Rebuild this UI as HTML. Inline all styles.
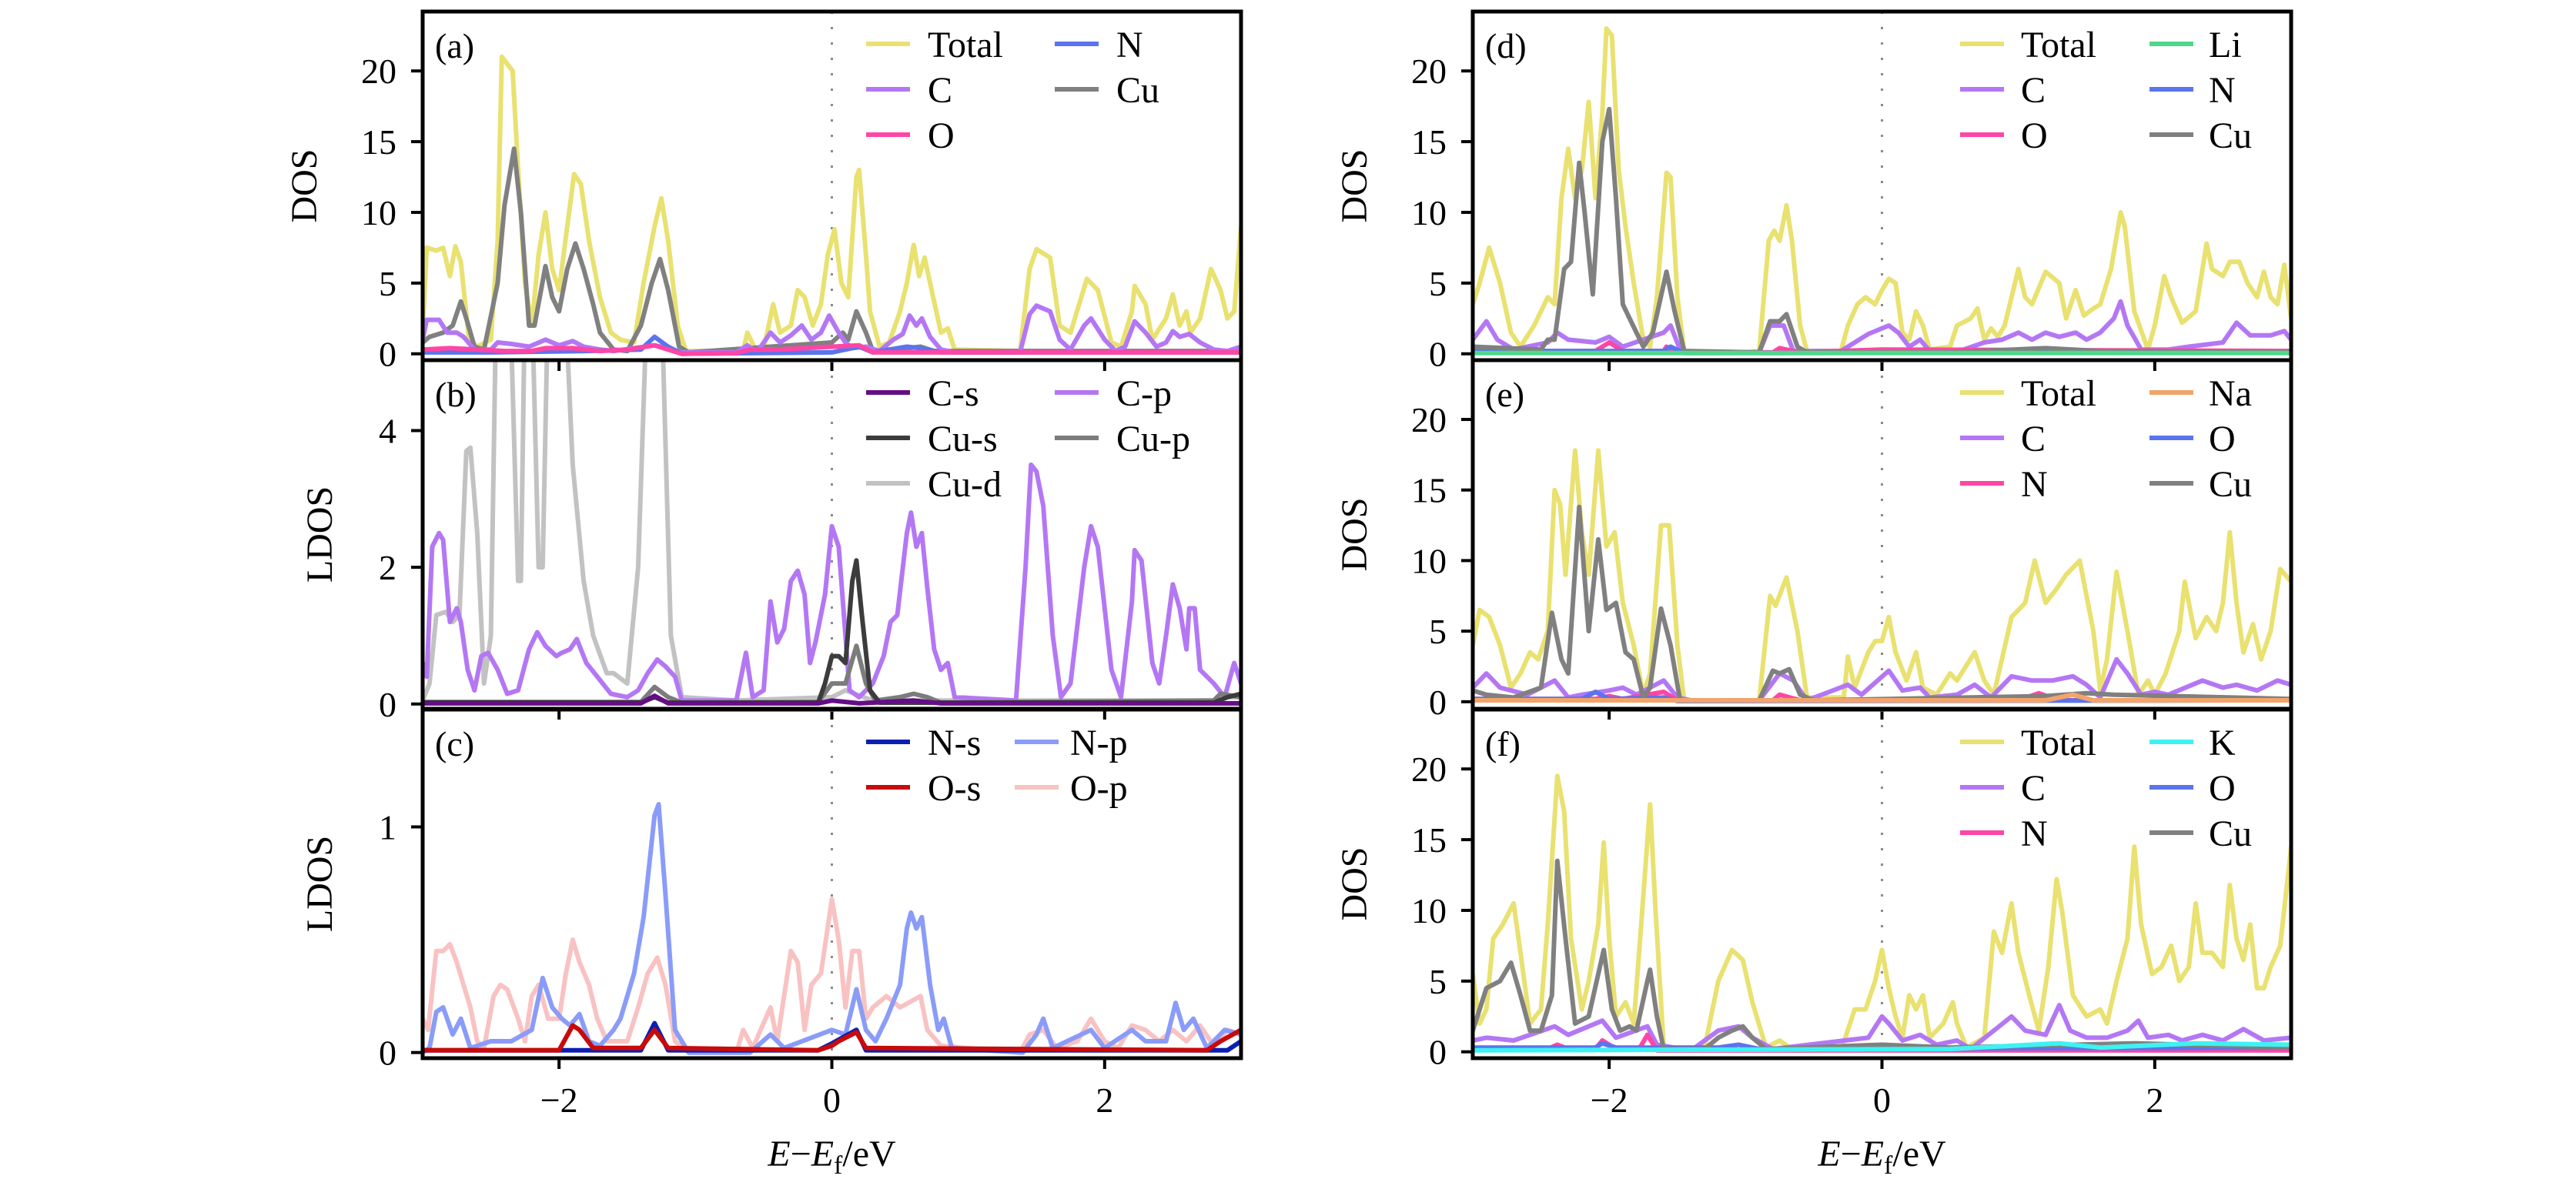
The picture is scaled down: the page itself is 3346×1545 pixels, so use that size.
<!DOCTYPE html>
<html><head><meta charset="utf-8"><title>DOS panels</title>
<style>
html,body{margin:0;padding:0;background:#fff;}
svg{display:block;}
svg text{font-family:"Liberation Serif","DejaVu Serif",serif;}
</style></head>
<body>
<svg id="chart" width="3346" height="1545" viewBox="0 0 3346 1545" xmlns="http://www.w3.org/2000/svg" font-family="Liberation Serif, serif"></svg>
<script>
// ---------- data (energy eV, DOS value) ----------
const aTotal=[[-3,1.5],[-2.97,7.5],[-2.9,7.3],[-2.85,7.5],[-2.8,5.5],[-2.76,7.6],[-2.72,6.5],[-2.66,1],[-2.6,0.5],[-2.5,1],[-2.45,8],[-2.42,21],[-2.38,20.5],[-2.34,20],[-2.3,13],[-2.25,5],[-2.2,2],[-2.15,7],[-2.1,10],[-2.05,6],[-2,4.5],[-1.94,9],[-1.89,12.7],[-1.84,12],[-1.78,8],[-1.7,4],[-1.62,1.5],[-1.55,1],[-1.45,0.8],[-1.38,5],[-1.3,9],[-1.25,11],[-1.2,8],[-1.13,2],[-1.07,0.2],[-0.65,0.2],[-0.62,1.5],[-0.56,0.3],[-0.5,0.3],[-0.43,3.5],[-0.38,1.5],[-0.3,2],[-0.25,4.5],[-0.2,4],[-0.14,2],[-0.08,3.5],[-0.03,7],[0.02,8.8],[0.07,5],[0.12,4],[0.18,12.5],[0.2,13],[0.25,7],[0.28,3],[0.35,0.5],[0.42,0.8],[0.5,3],[0.55,5],[0.6,7.7],[0.64,5.5],[0.68,6.8],[0.72,5],[0.8,1.5],[0.85,1.8],[0.9,0.3],[1.38,0.2],[1.45,6],[1.5,7.4],[1.6,6.8],[1.67,2],[1.75,1.5],[1.87,5.3],[1.95,4.5],[2.05,0.8],[2.12,0.5],[2.2,3],[2.22,4.8],[2.3,3.5],[2.35,1],[2.45,2.5],[2.5,4.2],[2.55,2],[2.6,3],[2.63,1.5],[2.7,2.5],[2.78,6],[2.85,4.5],[2.9,2.5],[2.95,3],[3,9]];
const aCu=[[-3,0.8],[-2.95,1.2],[-2.85,1.5],[-2.78,2],[-2.72,3.7],[-2.68,2.5],[-2.62,0.5],[-2.55,0.3],[-2.45,5],[-2.4,10.5],[-2.33,14.5],[-2.28,10],[-2.22,2],[-2.18,2],[-2.1,6.2],[-2.05,4],[-2,3],[-1.94,6],[-1.88,7.8],[-1.82,6],[-1.75,3.5],[-1.7,1.5],[-1.6,0.3],[-1.5,0.2],[-1.4,2],[-1.32,5],[-1.26,6.7],[-1.2,4.5],[-1.12,0.5],[-1.05,0.1],[0,0.8],[0.08,1.5],[0.12,1],[0.18,3],[0.25,1.5],[0.3,0.2],[0.55,0.4],[0.65,0.5],[0.75,0.2],[3,0.2]];
const aC=[[-3,1],[-2.97,2.4],[-2.88,2.4],[-2.82,1.5],[-2.75,1.5],[-2.7,1.2],[-2.62,0.3],[-2.5,0.3],[-2.45,0.8],[-2.35,0.7],[-2.22,0.5],[-2.1,1],[-2,0.6],[-1.9,0.9],[-1.82,0.5],[-1.7,0.3],[-1.6,0.2],[-1.3,0.6],[-1.2,0.4],[-1.1,0.1],[-0.7,0.1],[-0.62,0.6],[-0.55,0.1],[-0.45,1.5],[-0.38,0.8],[-0.3,1.3],[-0.22,2],[-0.15,1],[-0.08,1.5],[-0.02,2.7],[0.05,1.5],[0.1,0.8],[0.15,0.4],[0.25,0.5],[0.35,0.2],[0.45,1],[0.52,1.4],[0.57,2.7],[0.62,2],[0.66,2.5],[0.72,1.2],[0.8,0.3],[0.9,0.1],[1.38,0.1],[1.45,2.8],[1.5,3.4],[1.6,3],[1.67,1],[1.75,0.3],[1.85,2],[1.9,2.5],[2,1],[2.08,0.2],[2.15,0.5],[2.22,2.3],[2.3,1.5],[2.38,0.5],[2.45,0.8],[2.5,1.6],[2.55,1.2],[2.62,1.4],[2.7,0.8],[2.8,0.3],[2.9,0.2],[3,0.5]];
const aO=[[-3,0.3],[-2.8,0.4],[-2.6,0.3],[-2.4,0.2],[-2.2,0.2],[-2.1,0.4],[-1.9,0.4],[-1.7,0.2],[-1.5,0.3],[-1.3,0.6],[-1.2,0.3],[-1.1,0],[-0.7,0.05],[-0.6,0.3],[-0.4,0.3],[-0.2,0.4],[0,0.5],[0.2,0.6],[0.3,0.1],[0.6,0.1],[3,0.1]];
const aN=[[-3,0.1],[-2.5,0.1],[-1.8,0.2],[-1.4,0.3],[-1.3,1.2],[-1.2,0.5],[-1.1,0],[0,0.1],[0.1,0.3],[0.2,0.5],[0.3,0.1],[0.55,0.5],[0.65,0.4],[0.8,0.1],[3,0.1]];

const bCp=[[-3,0.6],[-2.97,0.4],[-2.93,2.3],[-2.88,2.5],[-2.85,2.4],[-2.8,1.2],[-2.75,1.4],[-2.72,1.2],[-2.67,0.5],[-2.62,0.2],[-2.57,0.7],[-2.52,0.75],[-2.45,0.5],[-2.38,0.15],[-2.3,0.2],[-2.22,0.8],[-2.16,1.05],[-2.1,0.85],[-2.02,0.7],[-1.98,0.75],[-1.92,0.8],[-1.87,0.95],[-1.8,0.6],[-1.72,0.4],[-1.62,0.15],[-1.5,0.1],[-1.42,0.2],[-1.35,0.45],[-1.28,0.65],[-1.22,0.55],[-1.15,0.4],[-1.1,0.05],[-0.7,0.05],[-0.63,0.75],[-0.58,0.1],[-0.5,0.2],[-0.45,1.5],[-0.4,0.9],[-0.35,1.1],[-0.3,1.8],[-0.25,1.95],[-0.2,1.6],[-0.16,0.6],[-0.12,0.9],[-0.05,1.6],[0,2.6],[0.05,2.3],[0.1,1],[0.13,0.2],[0.2,0.1],[0.3,0.3],[0.38,0.7],[0.43,1.2],[0.48,1.3],[0.55,2.5],[0.58,2.8],[0.62,2.3],[0.66,2.5],[0.7,1.7],[0.75,0.8],[0.8,0.5],[0.85,0.6],[0.9,0.1],[1.35,0.05],[1.42,2],[1.46,3.5],[1.5,3.4],[1.55,2.9],[1.62,1],[1.68,0.1],[1.75,0.3],[1.85,2],[1.9,2.6],[1.95,2.3],[2.05,0.5],[2.12,0.1],[2.2,1.5],[2.22,2.25],[2.27,2.1],[2.35,0.6],[2.4,0.3],[2.45,1],[2.5,1.75],[2.55,1.4],[2.6,0.8],[2.62,1.4],[2.66,1.4],[2.7,0.5],[2.8,0.3],[2.88,0.1],[2.95,0.6],[3,0.3]];
const bCud=[[-3,0.05],[-2.95,0.3],[-2.9,1.3],[-2.83,1.35],[-2.78,1.2],[-2.73,1.3],[-2.68,3.7],[-2.65,3.75],[-2.6,2.5],[-2.55,0.3],[-2.5,1],[-2.46,6],[-2.42,8],[-2.36,6],[-2.3,1.8],[-2.28,1.8],[-2.25,6],[-2.2,6],[-2.15,2],[-2.12,2],[-2.08,6],[-2.02,9],[-1.98,7],[-1.9,3.5],[-1.82,1.8],[-1.75,1],[-1.65,0.45],[-1.6,0.45],[-1.5,0.3],[-1.42,2],[-1.37,5],[-1.3,8],[-1.25,6],[-1.18,1],[-1.1,0.1],[-0.7,0.05],[0,0.1],[0.1,0.2],[0.3,0.05],[2.8,0.05],[2.9,0.1],[3,0.1]];
const bCus=[[-3,0.02],[-1.4,0.02],[-1.3,0.1],[-1.2,0.02],[-0.1,0.02],[-0.05,0.3],[0,0.7],[0.05,0.7],[0.1,0.6],[0.15,1.8],[0.18,2.1],[0.22,1.3],[0.28,0.2],[0.35,0.02],[2.8,0.02],[2.9,0.1],[3,0.15]];
const bCup=[[-3,0.03],[-1.4,0.03],[-1.3,0.25],[-1.2,0.1],[-1.1,0.02],[-0.1,0.03],[0,0.3],[0.1,0.3],[0.18,0.85],[0.25,0.3],[0.32,0.05],[0.5,0.1],[0.6,0.15],[0.7,0.1],[0.8,0.02],[2.8,0.05],[2.85,0.15],[3,0.1]];
const bCs=[[-3,0.01],[-1.4,0.01],[-1.3,0.12],[-1.2,0.01],[-0.1,0.01],[0,0.05],[0.2,0.01],[0.6,0.05],[0.8,0.01],[3,0.01]];

const cOp=[[-3,0.15],[-2.96,0.1],[-2.9,0.45],[-2.85,0.45],[-2.8,0.48],[-2.75,0.4],[-2.7,0.3],[-2.65,0.2],[-2.6,0.05],[-2.55,0.02],[-2.48,0.25],[-2.43,0.3],[-2.38,0.28],[-2.3,0.15],[-2.25,0.05],[-2.2,0.25],[-2.15,0.3],[-2.08,0.15],[-2,0.15],[-1.95,0.35],[-1.9,0.5],[-1.85,0.4],[-1.78,0.3],[-1.72,0.15],[-1.65,0.05],[-1.5,0.05],[-1.42,0.2],[-1.35,0.35],[-1.28,0.42],[-1.22,0.3],[-1.15,0.05],[-1.05,0],[-0.7,0],[-0.65,0.1],[-0.58,0.02],[-0.45,0.2],[-0.4,0.05],[-0.3,0.45],[-0.25,0.4],[-0.2,0.1],[-0.15,0.3],[-0.08,0.35],[0,0.68],[0.05,0.5],[0.1,0.2],[0.15,0.45],[0.2,0.45],[0.25,0.15],[0.3,0.2],[0.4,0.25],[0.5,0.2],[0.65,0.25],[0.7,0.1],[0.8,0.03],[1.38,0],[1.45,0.08],[1.55,0.1],[1.65,0.02],[1.8,0.05],[1.9,0.15],[2,0.05],[2.1,0.02],[2.2,0.12],[2.3,0.1],[2.4,0.05],[2.5,0.1],[2.6,0.05],[2.7,0.12],[2.8,0.03],[2.9,0.1],[3,0.08]];
const cNp=[[-3,0],[-2.95,0.02],[-2.9,0.18],[-2.85,0.2],[-2.78,0.08],[-2.72,0.15],[-2.65,0.02],[-2.5,0.05],[-2.35,0.05],[-2.2,0.1],[-2.12,0.33],[-2.05,0.2],[-1.98,0.15],[-1.92,0.12],[-1.85,0.17],[-1.78,0.05],[-1.7,0.03],[-1.6,0.1],[-1.55,0.15],[-1.45,0.35],[-1.38,0.6],[-1.3,1.05],[-1.27,1.1],[-1.22,0.7],[-1.15,0.1],[-1.05,0],[-0.6,0],[-0.45,0.08],[-0.35,0.02],[0,0.1],[0.1,0.08],[0.18,0.28],[0.25,0.1],[0.32,0.05],[0.4,0.15],[0.5,0.3],[0.55,0.55],[0.58,0.62],[0.62,0.55],[0.66,0.6],[0.72,0.3],[0.78,0.1],[0.82,0.15],[0.88,0.02],[1.4,0],[1.5,0.08],[1.55,0.15],[1.62,0.02],[1.9,0.1],[2,0.02],[2.2,0.1],[2.3,0.05],[2.45,0.05],[2.52,0.22],[2.58,0.1],[2.65,0.15],[2.75,0.02],[2.88,0.1],[3,0.08]];
const cOs=[[-3,0.01],[-2,0.01],[-1.9,0.12],[-1.85,0.1],[-1.75,0.02],[-1.4,0.02],[-1.3,0.1],[-1.2,0.02],[-0.1,0.01],[0,0.03],[0.05,0.05],[0.18,0.09],[0.25,0.02],[2.75,0.01],[2.85,0.05],[3,0.1]];
const cNs=[[-3,0.01],[-1.4,0.01],[-1.3,0.13],[-1.2,0.01],[-0.1,0.01],[0,0.04],[0.18,0.1],[0.25,0.01],[2.9,0.01],[3,0.05]];

const dTotal=[[-3,3.5],[-2.95,5],[-2.88,7.5],[-2.8,5],[-2.72,1.5],[-2.65,0.5],[-2.55,2],[-2.45,4],[-2.4,3.5],[-2.35,11],[-2.3,14.5],[-2.25,11],[-2.2,13],[-2.15,17.8],[-2.1,11],[-2.05,17],[-2.02,23],[-1.98,22.5],[-1.93,13],[-1.88,9],[-1.82,5],[-1.75,1],[-1.7,0.5],[-1.65,4],[-1.58,12.8],[-1.55,12.5],[-1.5,4],[-1.45,0.2],[-1,0.1],[-0.9,0.2],[-0.83,8],[-0.79,8.7],[-0.75,8],[-0.7,10.5],[-0.66,8],[-0.6,2],[-0.55,0.2],[-0.3,0.2],[-0.25,2],[-0.18,3.5],[-0.12,4],[-0.05,3.5],[0,4.5],[0.05,5.3],[0.1,5],[0.15,1.5],[0.2,1],[0.25,3],[0.3,2],[0.35,0.3],[0.5,0.5],[0.55,2],[0.65,2.5],[0.7,3.2],[0.75,1],[0.8,1.8],[0.85,1.2],[0.9,2],[1,6],[1.05,4],[1.1,3.5],[1.2,5.8],[1.3,5],[1.35,2.5],[1.42,4.5],[1.48,2.7],[1.55,3.2],[1.6,3.5],[1.68,6],[1.75,10],[1.78,9],[1.85,3],[1.95,0.3],[2,2],[2.07,5.5],[2.12,4],[2.2,2.2],[2.3,3],[2.38,7.8],[2.42,6],[2.5,5.5],[2.55,6.5],[2.62,6.5],[2.68,5],[2.75,4],[2.8,5.8],[2.85,4],[2.9,3.5],[2.95,6.3],[3,2.5]];
const dCu=[[-3,0.5],[-2.5,0.3],[-2.45,1],[-2.4,1],[-2.33,6],[-2.28,6.5],[-2.22,13.5],[-2.18,10],[-2.12,4.2],[-2.05,15],[-2,17.3],[-1.95,11],[-1.9,3.5],[-1.85,2.5],[-1.75,0.5],[-1.68,1.5],[-1.58,5.8],[-1.52,3],[-1.45,0.2],[-0.9,0.1],[-0.82,2.3],[-0.75,2.3],[-0.7,2.8],[-0.62,0.5],[-0.55,0.1],[0.5,0.1],[1.2,0.4],[1.4,0.3],[1.6,0.2],[3,0.1]];
const dC=[[-3,1],[-2.9,2.3],[-2.82,1],[-2.7,0.3],[-2.45,0.8],[-2.38,1.5],[-2.3,1],[-2.1,0.8],[-2,1.2],[-1.9,0.5],[-1.6,1.5],[-1.55,2],[-1.48,0.3],[-1.4,0.1],[-0.9,0.1],[-0.82,2],[-0.72,2],[-0.65,0.2],[-0.3,0.2],[-0.1,1.4],[0.05,2],[0.12,1.5],[0.2,0.5],[0.28,1],[0.35,0.2],[0.6,0.3],[0.75,0.8],[0.88,1],[1,1.5],[1.1,1],[1.2,1.5],[1.3,1.2],[1.42,1.5],[1.5,1],[1.6,1.5],[1.7,2.5],[1.75,3.7],[1.8,2],[1.9,0.3],[2.1,0.3],[2.25,0.5],[2.5,0.8],[2.6,2.2],[2.7,1.3],[2.85,1.3],[2.95,1.6],[3,1]];
const dO=[[-3,0.2],[-2.1,0.2],[-2,0.8],[-1.9,0.2],[-1.6,0.2],[-1.58,0.5],[-1.5,0.1],[-0.8,0.1],[-0.75,0.4],[-0.6,0.1],[0,0.3],[3,0.2]];
const dN=[[-3,0.2],[-1.6,0.2],[-1.55,0.5],[-1.45,0.05],[3,0.1]];
const dLi=[[-3,0.05],[3,0.05]];

const eTotal=[[-3,4],[-2.95,6.5],[-2.88,6],[-2.8,4],[-2.72,1],[-2.65,2],[-2.58,3.5],[-2.52,3],[-2.45,5],[-2.4,15],[-2.36,14],[-2.32,9],[-2.25,17.8],[-2.2,12],[-2.15,9],[-2.08,17.8],[-2.02,11],[-1.96,12],[-1.9,7],[-1.82,4],[-1.75,0.5],[-1.7,2],[-1.62,12.5],[-1.56,12.5],[-1.5,4],[-1.45,0.1],[-0.9,0.1],[-0.82,7.5],[-0.78,6.8],[-0.7,8.8],[-0.62,5],[-0.55,0.3],[-0.28,0.3],[-0.25,3.2],[-0.2,1],[-0.1,3.5],[-0.05,4.3],[0,4.3],[0.05,6],[0.1,3.5],[0.18,1.5],[0.25,3.5],[0.3,1],[0.4,0.5],[0.5,2],[0.55,1.5],[0.68,3.5],[0.75,1.5],[0.82,0.5],[0.95,6],[1.05,7],[1.12,10],[1.2,7],[1.28,8],[1.35,9],[1.45,10],[1.55,5],[1.6,0.8],[1.65,3],[1.72,9.2],[1.8,5],[1.88,0.5],[1.95,1.5],[2,0.5],[2.08,2],[2.18,5],[2.22,8.5],[2.3,4.5],[2.38,6],[2.45,5],[2.5,7],[2.55,12],[2.6,7],[2.65,3.5],[2.72,5.5],[2.78,3],[2.85,5],[2.92,9.4],[3,8.5]];
const eCu=[[-3,0.8],[-2.9,0.5],[-2.7,0.3],[-2.5,1],[-2.42,6.3],[-2.35,3],[-2.3,2],[-2.22,13.8],[-2.15,5],[-2.08,11.5],[-2.02,6.5],[-1.95,7],[-1.88,3.5],[-1.82,3],[-1.75,0.3],[-1.7,1],[-1.62,6.6],[-1.55,4],[-1.48,0.1],[-0.9,0.1],[-0.8,2.2],[-0.75,2],[-0.68,2.3],[-0.6,0.5],[-0.5,0.1],[1.2,0.4],[1.5,0.6],[1.7,0.5],[3,0.2]];
const eC=[[-3,1],[-2.9,2],[-2.8,1],[-2.6,0.5],[-2.4,1.5],[-2.3,0.3],[-2.2,0.5],[-2,0.8],[-1.9,1],[-1.8,0.5],[-1.6,1.5],[-1.5,0.3],[-1.4,0.1],[-0.9,0.1],[-0.75,2],[-0.65,1.5],[-0.55,0.1],[-0.25,1.2],[-0.15,0.5],[0.05,2.2],[0.15,0.8],[0.28,1],[0.35,0.3],[0.55,0.5],[0.68,1.2],[0.8,0.3],[0.95,1.8],[1.1,1.5],[1.25,1.5],[1.4,1.8],[1.5,1.2],[1.6,0.3],[1.72,3],[1.8,2],[1.9,0.5],[2,0.7],[2.1,0.5],[2.35,1.5],[2.5,1],[2.6,1.2],[2.75,0.8],[2.9,1.5],[3,1.2]];
const eN=[[-3,0.2],[-2.1,0.2],[-2,0.4],[-1.9,0.2],[-1.6,0.7],[-1.5,0.1],[-0.8,0.1],[-0.75,0.5],[-0.6,0.1],[1,0.1],[1.15,0.6],[1.3,0.1],[3,0.1]];
const eO=[[-3,0.2],[-2.2,0.2],[-2.1,0.7],[-2,0.2],[-1.6,0.3],[-1.5,0.05],[3,0.1]];
const eNa=[[-3,0.1],[1.2,0.1],[1.4,0.5],[1.55,0.1],[3,0.1]];

const fTotal=[[-3,5.5],[-2.95,2],[-2.9,3],[-2.85,8],[-2.78,9],[-2.7,10.5],[-2.65,7],[-2.58,2],[-2.5,3],[-2.45,9],[-2.38,19.5],[-2.33,17],[-2.28,8],[-2.2,3],[-2.15,5],[-2.08,9],[-2.04,14.8],[-2,8],[-1.95,2.5],[-1.88,3.5],[-1.82,2],[-1.75,11],[-1.7,17.5],[-1.66,10],[-1.6,0.3],[-1.3,0.3],[-1.2,5],[-1.1,7.2],[-1.02,6.5],[-0.95,3.5],[-0.85,0.3],[-0.75,0.8],[-0.65,0.1],[-0.3,0.1],[-0.2,3],[-0.12,3],[-0.05,5],[0,7.2],[0.05,4.5],[0.1,2.5],[0.15,1],[0.2,4],[0.25,3],[0.3,4],[0.35,1],[0.45,2],[0.52,3.5],[0.55,2],[0.62,0.3],[0.75,1],[0.82,8.5],[0.88,7],[0.95,10.5],[1,7],[1.08,4],[1.15,1.5],[1.22,6],[1.28,12.2],[1.32,10],[1.4,4],[1.5,2.5],[1.6,3],[1.65,2],[1.72,5],[1.8,8],[1.85,14.5],[1.9,9],[1.98,5.5],[2.05,6],[2.12,7.5],[2.18,5],[2.25,6],[2.3,10.5],[2.35,7],[2.42,7],[2.5,6],[2.55,11.8],[2.6,8],[2.65,6.5],[2.7,9],[2.75,4.5],[2.8,4.5],[2.85,6],[2.92,7.5],[3,14.5]];
const fCu=[[-3,1.5],[-2.9,4.5],[-2.8,5],[-2.72,6.3],[-2.65,4],[-2.58,1.5],[-2.5,1.5],[-2.42,4],[-2.38,13.5],[-2.32,8],[-2.25,2],[-2.15,2.5],[-2.08,5.5],[-2.04,7.2],[-1.98,3],[-1.92,1.5],[-1.85,1.8],[-1.8,1.5],[-1.72,5],[-1.7,5.8],[-1.65,2.5],[-1.6,0.2],[-1.3,0.2],[-1.2,1],[-1.1,1.5],[-1.02,1.8],[-0.95,1],[-0.85,0.2],[0,0.5],[0.5,0.3],[1.85,0.6],[3,0.3]];
const fC=[[-3,0.8],[-2.9,1],[-2.7,0.8],[-2.4,1.8],[-2.3,1.2],[-2.05,2.2],[-1.95,1],[-1.72,1.8],[-1.65,0.5],[-1.4,0.1],[-1.2,1.5],[-1.05,1.8],[-0.95,1],[-0.8,0.2],[-0.1,1],[0,2.5],[0.05,2],[0.15,0.8],[0.28,1.2],[0.4,0.5],[0.55,0.8],[0.65,0.2],[0.82,1.5],[0.95,2.5],[1.05,1.5],[1.2,1.2],[1.3,3.3],[1.38,1.5],[1.5,1],[1.65,1],[1.8,1.5],[1.88,2.2],[1.95,1],[2.1,1.2],[2.2,0.8],[2.35,1.2],[2.5,0.8],[2.65,1.6],[2.8,0.8],[3,1]];
const fN=[[-3,0.2],[-2.45,0.2],[-2.38,0.5],[-2.3,0.2],[-2.1,0.2],[-2.05,0.8],[-1.95,0.2],[-1.78,0.2],[-1.72,1.2],[-1.65,0.1],[3,0.1]];
const fO=[[-3,0.3],[-2.1,0.3],[-2.05,0.6],[-1.95,0.3],[-1.2,0.3],[-1.05,0.5],[-0.9,0.2],[3,0.3]];
const fK=[[-3,0.1],[0.5,0.2],[0.9,0.4],[1.3,0.6],[1.6,0.3],[2.3,0.6],[3,0.5]];

const xTicks=[-2,0,2];
const dosTicks=[0,5,10,15,20];
const bTicks=[0,2,4];
const cTicks=[0,1];

// ---------- layout ----------
const NS='http://www.w3.org/2000/svg';
const svg=document.getElementById('chart');
const FONT='Liberation Serif, DejaVu Serif, serif';
const COL={total:'#e9e170',C:'#b477f4',N:'#5a74ee',O:'#ff45a5',Cu:'#808080',Li:'#4fd88c',Na:'#f3a468',K:'#3ef2f2',Cs:'#650d86',Cus:'#3c3c3c',Cup:'#7c7c7c',Cud:'#c2c2c2',Ns:'#0a1fb2',Np:'#8a9cf8',Os:'#c80a0a',Op:'#f9c2c2'};
const tops=[15,468,922], H=453;
const cols=[549,1913], W=1063;

function mk(tag,attrs,parent){const e=document.createElementNS(NS,tag);for(const k in attrs)e.setAttribute(k,attrs[k]);if(tag==='text')e.setAttribute('font-family',FONT);(parent||svg).appendChild(e);return e;}

const panels=[
 {id:'a',col:0,row:0,ylab:'DOS',ymin:-0.45,ymax:24.2,ticks:dosTicks,series:[['Total',aTotal,COL.total],['Cu',aCu,COL.Cu],['C',aC,COL.C],['N',aN,COL.N],['O',aO,COL.O]],
  legend:[['Total',COL.total],['C',COL.C],['O',COL.O],['N',COL.N],['Cu',COL.Cu]]},
 {id:'b',col:0,row:1,ylab:'LDOS',ymin:-0.07,ymax:5.03,ticks:bTicks,series:[['Cu-d',bCud,COL.Cud],['C-p',bCp,COL.C],['Cu-p',bCup,COL.Cup],['Cu-s',bCus,COL.Cus],['C-s',bCs,COL.Cs]],
  legend:[['C-s',COL.Cs],['Cu-s',COL.Cus],['Cu-d',COL.Cud],['C-p',COL.C],['Cu-p',COL.Cup]]},
 {id:'c',col:0,row:2,ylab:'LDOS',ymin:-0.025,ymax:1.52,ticks:cTicks,series:[['O-p',cOp,COL.Op],['N-p',cNp,COL.Np],['N-s',cNs,COL.Ns],['O-s',cOs,COL.Os]],
  legend:[['N-s',COL.Ns],['O-s',COL.Os],['N-p',COL.Np],['O-p',COL.Op]],leg2:true},
 {id:'d',col:1,row:0,ylab:'DOS',ymin:-0.45,ymax:24.2,ticks:dosTicks,series:[['Total',dTotal,COL.total],['C',dC,COL.C],['O',dO,COL.O],['N',dN,COL.N],['Cu',dCu,COL.Cu],['Li',dLi,COL.Li]],
  legend:[['Total',COL.total],['C',COL.C],['O',COL.O],['Li',COL.Li],['N',COL.N],['Cu',COL.Cu]]},
 {id:'e',col:1,row:1,ylab:'DOS',ymin:-0.5,ymax:24.2,ticks:dosTicks,series:[['Total',eTotal,COL.total],['C',eC,COL.C],['N',eN,COL.O],['O',eO,COL.N],['Cu',eCu,COL.Cu],['Na',eNa,COL.Na]],
  legend:[['Total',COL.total],['C',COL.C],['N',COL.O],['Na',COL.Na],['O',COL.N],['Cu',COL.Cu]]},
 {id:'f',col:1,row:2,ylab:'DOS',ymin:-0.45,ymax:24.2,ticks:dosTicks,series:[['Total',fTotal,COL.total],['C',fC,COL.C],['N',fN,COL.O],['O',fO,COL.N],['Cu',fCu,COL.Cu],['K',fK,COL.K]],
  legend:[['Total',COL.total],['C',COL.C],['N',COL.O],['K',COL.K],['O',COL.N],['Cu',COL.Cu]]}
];

const defs=mk('defs',{});
panels.forEach(p=>{
  const x0=cols[p.col], y0=tops[p.row], y1=y0+H;
  const X=e=>x0+(e+3)/6*W;
  const Y=v=>y1-(v-p.ymin)/(p.ymax-p.ymin)*H;
  const g=mk('g',{});
  
  
  const cp=mk('clipPath',{id:'clip-'+p.id},defs);
  mk('rect',{x:x0,y:y0,width:W,height:H},cp);
  const dl=mk('line',{x1:X(0),x2:X(0),y1:y0,y2:y1,stroke:'#8a8a8a','stroke-width':3,'stroke-dasharray':'3 17'},g);
  
  
  const sg=mk('g',{'clip-path':'url(#clip-'+p.id+')'},g);
  p.series.forEach(s=>{
    const d=s[1].map((pt,i)=>(i?'L':'M')+X(pt[0]).toFixed(1)+' '+Y(pt[1]).toFixed(1)).join(' ');
    const path=mk('path',{d:d,fill:'none',stroke:s[2],'stroke-width':6,'stroke-linejoin':'round','stroke-linecap':'round'},sg);
    
    
  });
  const fr=mk('rect',{x:x0,y:y0,width:W,height:H,fill:'none',stroke:'#000','stroke-width':5},g);
  
  
  p.ticks.forEach(t=>{
    mk('line',{x1:x0-15,x2:x0,y1:Y(t),y2:Y(t),stroke:'#000','stroke-width':4},g);
    const tl=mk('text',{x:x0-34,y:Y(t)+16,'text-anchor':'end','font-size':46},g);
    tl.textContent=String(t);
    
    
  });
  xTicks.forEach(t=>{
    mk('line',{x1:X(t),x2:X(t),y1:y1,y2:y1+14,stroke:'#000','stroke-width':4},g);
    if(p.row===2){
      const tl=mk('text',{x:X(t),y:y1+70,'text-anchor':'middle','font-size':46},g);
      tl.textContent=t<0?'\u2212'+Math.abs(t):String(t);
      
      
    }
  });
  const yl=mk('text',{x:0,y:0,'text-anchor':'middle','font-size':48,transform:'translate('+(x0-(p.ylab==='DOS'?138:118))+','+(y0+H/2)+') rotate(-90)'},g);
  yl.textContent=p.ylab;
  
  
  const pl=mk('text',{x:x0+16,y:y0+60,'font-size':46},g);
  pl.textContent='('+p.id+')';
  
  
  const lc1=p.col===0?[1125,1205]:[2546,2625];
  const lc2=p.col===0?(p.leg2?[1318,1390]:[1370,1450]):[2792,2869];
  const per=p.legend.length>4?3:2;
  const rows=[42,101,160];
  p.legend.forEach((L,i)=>{
    const c=i<per?lc1:lc2, r=rows[i<per?i:i-per];
    const lg=mk('g',{},g);
    
    
    mk('line',{x1:c[0],x2:c[0]+57,y1:y0+r,y2:y0+r,stroke:L[1],'stroke-width':6},lg);
    const tx=mk('text',{x:c[1],y:y0+r+17,'font-size':48},lg);
    tx.textContent=L[0];
  });
  if(p.row===2){
    const xt=mk('text',{x:x0+W/2,y:1515,'text-anchor':'middle','font-size':48},g);
    xt.innerHTML='<tspan font-style="italic">E</tspan>\u2212<tspan font-style="italic">E</tspan><tspan font-size="34" dy="10">f</tspan><tspan dy="-10">/eV</tspan>';
    
    
  }
});
</script>
</body></html>
